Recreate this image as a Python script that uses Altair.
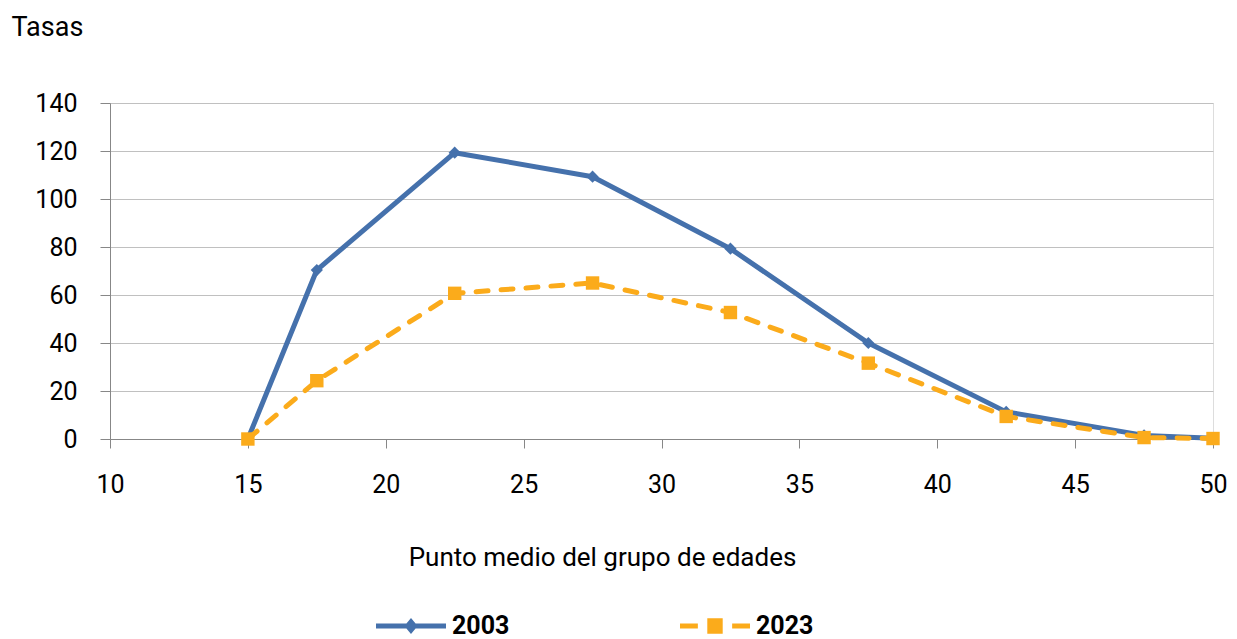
import altair as alt
import pandas as pd

# ---- data ----
edades = [15, 17.5, 22.5, 27.5, 32.5, 37.5, 42.5, 47.5, 50]
tasas_2003 = [0, 70.4, 119.3, 109.3, 79.3, 40.0, 11.3, 1.5, 0.3]
tasas_2023 = [0, 24.3, 60.7, 65.0, 52.7, 31.6, 9.4, 0.6, 0.2]
series = ["2003", "2023"]
x_ticks = [10, 15, 20, 25, 30, 35, 40, 45, 50]
y_ticks = [0, 20, 40, 60, 80, 100, 120, 140]

BLUE = "#4571ac"
ORANGE = "#fbab1b"
FONT = "Roboto"

rows = []
for s, vals in zip(series, [tasas_2003, tasas_2023]):
    for e, v in zip(edades, vals):
        rows.append({"edad": e, "tasa": v, "serie": s})
df = pd.DataFrame(rows)

x_enc = alt.X(
    "edad:Q",
    scale=alt.Scale(domain=[10, 50], nice=False, zero=False),
    axis=alt.Axis(
        values=x_ticks,
        title="Punto medio del grupo de edades",
        titleX=492, titleY=126, titleAlign="center", titleBaseline="alphabetic",
        titleFont=FONT, titleFontSize=26, titleFontWeight="normal", titleColor="#000000",
        labelFont=FONT, labelFontSize=25, labelColor="#000000",
        labelBaseline="alphabetic", labelPadding=44,
        tickSize=9, tickColor="#878787", domainColor="#878787",
        grid=False, labelFlush=False,
    ),
)
y_enc = alt.Y(
    "tasa:Q",
    scale=alt.Scale(domain=[0, 140], nice=False),
    axis=alt.Axis(
        values=y_ticks,
        title="Tasas",
        titleAngle=0, titleX=-99, titleY=-68, titleAlign="left", titleBaseline="alphabetic",
        titleFont=FONT, titleFontSize=27, titleFontWeight="normal", titleColor="#000000",
        labelFont=FONT, labelFontSize=25, labelColor="#000000",
        labelPadding=23, labelBaseline="middle",
        tickSize=10, tickColor="#878787", domainColor="#878787",
        grid=True, gridColor="#c0c0c0", gridWidth=1,
    ),
)

# legend glyphs: filled paths (line + marker) in unit coordinates
PATH_2003 = ("M-1,-0.072L1,-0.072L1,0.072L-1,0.072Z"
             "M0,-0.23L0.19,0L0,0.23L-0.19,0Z")
PATH_2023 = ("M-1,-0.072L-0.49,-0.072L-0.49,0.072L-1,0.072Z"
             "M0.49,-0.072L1,-0.072L1,0.072L0.49,0.072Z"
             "M-0.22,-0.22L0.22,-0.22L0.22,0.22L-0.22,0.22Z")

base = alt.Chart(df)

line_2003 = base.transform_filter("datum.serie == '2003'").mark_line(
    strokeWidth=5, strokeCap="round", strokeJoin="round", color=BLUE
).encode(x=x_enc, y=y_enc)

pts_2003 = base.transform_filter("datum.serie == '2003'").mark_point(
    shape="diamond", filled=True, size=150, color=BLUE, opacity=1
).encode(x="edad:Q", y="tasa:Q")

line_2023 = base.transform_filter("datum.serie == '2023'").mark_line(
    strokeWidth=5, strokeCap="round", strokeJoin="round", color=ORANGE,
    strokeDash=[12, 13]
).encode(x="edad:Q", y="tasa:Q")

pts_2023 = base.transform_filter("datum.serie == '2023'").mark_point(
    shape="square", filled=True, size=180, color=ORANGE, opacity=1
).encode(x="edad:Q", y="tasa:Q")

legend_layer = base.transform_filter("false").mark_point(
    filled=True, opacity=1, size=4900, strokeWidth=0
).encode(
    x="edad:Q",
    y="tasa:Q",
    color=alt.Color(
        "serie:N",
        scale=alt.Scale(domain=series, range=[BLUE, ORANGE]),
        legend=alt.Legend(
            title=None, orient="none", direction="horizontal",
            legendX=266, legendY=488, padding=0,
            symbolSize=4900, symbolStrokeWidth=0, symbolOpacity=1,
            labelOffset=6, columnPadding=170,
            labelFont=FONT, labelFontSize=25, labelFontWeight="bold", labelColor="#000000",
        ),
    ),
    shape=alt.Shape(
        "serie:N",
        scale=alt.Scale(domain=series, range=[PATH_2003, PATH_2023]),
    ),
)

chart = alt.layer(line_2003, pts_2003, line_2023, pts_2023, legend_layer).properties(
    width=1103,
    height=336,
    autosize=alt.AutoSizeParams(type="none"),
    padding={"left": 102, "top": 95, "right": 16, "bottom": 200},
).configure_view(stroke=None).configure(background="#ffffff")

chart.save("out.html", embed_options={"renderer": "svg", "actions": False})
